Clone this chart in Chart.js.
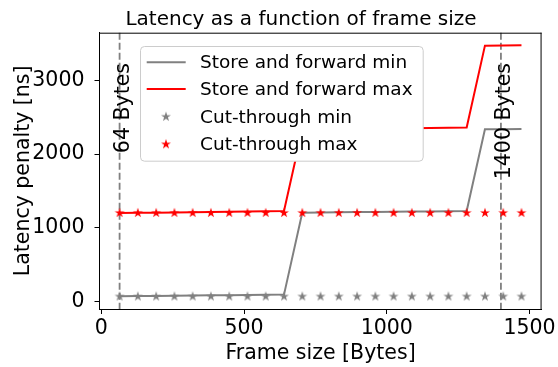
<!DOCTYPE html>
<html>
<head>
<meta charset="utf-8">
<script src="https://cdn.jsdelivr.net/npm/chart.js@4/dist/chart.umd.min.js"></script>
<style>
  html, body { margin: 0; padding: 0; background: #ffffff; }
  #wrap { width: 558px; height: 367px; }
</style>
</head>
<body>
<div id="wrap"><canvas id="c" width="558" height="367"></canvas></div>
<script>
// Frame sizes in bytes (x values)
const frameSizes = [64, 128, 192, 256, 320, 384, 448, 512, 576, 640, 704, 768,
                    832, 896, 960, 1024, 1088, 1152, 1216, 1280, 1344, 1408, 1472];

// Latency penalty in ns
const storeForwardMin = [72, 75, 77, 80, 82, 85, 87, 90, 92, 95,
                         1205, 1208, 1210, 1213, 1215, 1218, 1220, 1223, 1225, 1228,
                         2335, 2338, 2340];
const storeForwardMax = [1200, 1203, 1206, 1209, 1212, 1215, 1218, 1221, 1224, 1228,
                         2333, 2336, 2339, 2342, 2345, 2348, 2351, 2354, 2357, 2360,
                         3470, 3473, 3476];
const cutThroughMin = [70, 70, 70, 70, 70, 70, 70, 70, 70, 70, 70, 70,
                       70, 70, 70, 70, 70, 70, 70, 70, 70, 70, 70];
const cutThroughMax = [1202, 1202, 1202, 1202, 1202, 1202, 1202, 1202, 1202, 1202, 1202, 1202,
                       1202, 1202, 1202, 1202, 1202, 1202, 1202, 1202, 1202, 1202, 1202];

// Reference frame sizes marked with dashed lines
const markerSizes = [64, 1400];
const markerLabels = ['64 Bytes', '1400 Bytes'];

const xTickValues = [0, 500, 1000, 1500];
const yTickValues = [0, 1000, 2000, 3000];

const seriesNames = ['Store and forward min', 'Store and forward max', 'Cut-through min', 'Cut-through max'];

const GREY = '#808080';
const RED = '#ff0000';
const FONT = 'DejaVu Sans';

// Filled five-pointed star used as the point marker
function makeStar(color, R) {
  const size = Math.ceil(R * 2 + 3);
  const cv = document.createElement('canvas');
  cv.width = size; cv.height = size;
  const g = cv.getContext('2d');
  const cx = size / 2, cy = size / 2, r = R * 0.381966;
  g.beginPath();
  for (let i = 0; i < 10; i++) {
    const rad = i % 2 === 0 ? R : r;
    const a = -Math.PI / 2 + i * Math.PI / 5;
    const px = cx + rad * Math.cos(a), py = cy + rad * Math.sin(a);
    if (i === 0) g.moveTo(px, py); else g.lineTo(px, py);
  }
  g.closePath();
  g.fillStyle = color;
  g.fill();
  return cv;
}
const greyStar = makeStar(GREY, 5.2);
const redStar = makeStar(RED, 5.2);

const toPoints = ys => frameSizes.map((x, i) => ({ x: x, y: ys[i] }));

const decor = {
  id: 'decor',
  beforeDatasetsDraw(chart) {
    const { ctx, chartArea: a, scales: { x } } = chart;
    ctx.save();
    ctx.strokeStyle = GREY;
    ctx.lineWidth = 1.8;
    ctx.setLineDash([7, 3]);
    markerSizes.forEach(v => {
      const px = x.getPixelForValue(v);
      ctx.beginPath();
      ctx.moveTo(px, a.top);
      ctx.lineTo(px, a.bottom);
      ctx.stroke();
    });
    ctx.restore();
  },
  afterDraw(chart) {
    const { ctx, chartArea: a, scales: { x } } = chart;
    ctx.save();
    // top and right spines
    ctx.strokeStyle = '#000';
    ctx.lineWidth = 1;
    ctx.beginPath();
    ctx.moveTo(a.left, a.top + 0.5);
    ctx.lineTo(a.right, a.top + 0.5);
    ctx.moveTo(a.right - 0.5, a.top);
    ctx.lineTo(a.right - 0.5, a.bottom);
    ctx.stroke();

    // rotated labels next to the reference lines
    ctx.fillStyle = '#000';
    ctx.font = '20.5px "' + FONT + '"';
    ctx.textBaseline = 'middle';
    ctx.textAlign = 'right';
    markerSizes.forEach((v, i) => {
      const px = x.getPixelForValue(v);
      ctx.save();
      ctx.translate(px + 4, 63);
      ctx.rotate(-Math.PI / 2);
      ctx.fillText(markerLabels[i], 0, 0);
      ctx.restore();
    });

    // title
    ctx.font = '20px "' + FONT + '"';
    ctx.textAlign = 'center';
    ctx.textBaseline = 'alphabetic';
    ctx.fillText('Latency as a function of frame size', 301, 24.6);

    // axis titles
    ctx.font = '20.5px "' + FONT + '"';
    ctx.fillText('Frame size [Bytes]', (a.left + a.right) / 2, 359);
    ctx.save();
    ctx.translate(29, (a.top + a.bottom) / 2);
    ctx.rotate(-Math.PI / 2);
    ctx.fillText('Latency penalty [ns]', 0, 0);
    ctx.restore();

    // legend
    const bx = 140, by = 46, bw = 282.7, bh = 114.7, br = 4;
    ctx.beginPath();
    ctx.roundRect(bx + 0.5, by + 0.5, bw, bh, br);
    ctx.fillStyle = '#ffffff';
    ctx.fill();
    ctx.strokeStyle = '#cccccc';
    ctx.lineWidth = 1;
    ctx.stroke();

    const rows = [62.3, 89, 116.7, 144.3];
    chart.data.datasets.forEach((ds, i) => {
      const ry = rows[i];
      if (ds.showLine) {
        ctx.strokeStyle = ds.borderColor;
        ctx.lineWidth = ds.borderWidth;
        ctx.beginPath();
        ctx.moveTo(146.7, ry);
        ctx.lineTo(185.7, ry);
        ctx.stroke();
      } else {
        const img = ds.pointStyle;
        ctx.drawImage(img, 166 - img.width / 2, ry - img.height / 2);
      }
      ctx.fillStyle = '#000';
      ctx.font = '18.5px "' + FONT + '"';
      ctx.textAlign = 'left';
      ctx.textBaseline = 'middle';
      ctx.fillText(ds.label, 200, ry + 1);
    });
    ctx.restore();
  }
};

const plainTick = v => String(v);

new Chart(document.getElementById('c'), {
  type: 'scatter',
  data: {
    datasets: [
      { label: seriesNames[0], data: toPoints(storeForwardMin), showLine: true,
        borderColor: GREY, backgroundColor: GREY, borderWidth: 2, pointRadius: 0, order: 4 },
      { label: seriesNames[1], data: toPoints(storeForwardMax), showLine: true,
        borderColor: RED, backgroundColor: RED, borderWidth: 2, pointRadius: 0, order: 3 },
      { label: seriesNames[2], data: toPoints(cutThroughMin), showLine: false,
        pointStyle: greyStar, pointRadius: 5, order: 2 },
      { label: seriesNames[3], data: toPoints(cutThroughMax), showLine: false,
        pointStyle: redStar, pointRadius: 5, order: 1 }
    ]
  },
  options: {
    responsive: false,
    animation: false,
    devicePixelRatio: 1,
    layout: { padding: { top: 32.7, right: 16.3, bottom: 0, left: 0 } },
    plugins: { legend: { display: false }, title: { display: false }, tooltip: { enabled: false } },
    scales: {
      x: {
        type: 'linear',
        min: -6.4, max: 1542.4,
        afterBuildTicks: s => { s.ticks = xTickValues.map(v => ({ value: v })); },
        afterFit: s => { s.height = 58; },
        ticks: { font: { family: FONT, size: 20.5 }, color: '#000', padding: 2, maxRotation: 0,
                 callback: plainTick },
        grid: { display: true, drawOnChartArea: false, drawTicks: true, tickLength: 5, color: '#000' },
        border: { display: true, color: '#000', width: 1 }
      },
      y: {
        type: 'linear',
        min: -100.25, max: 3645.25,
        afterBuildTicks: s => { s.ticks = yTickValues.map(v => ({ value: v })); },
        afterFit: s => { s.width = 99.5; },
        ticks: { font: { family: FONT, size: 20.5 }, color: '#000', padding: 10,
                 callback: plainTick },
        grid: { display: true, drawOnChartArea: false, drawTicks: true, tickLength: 5, color: '#000' },
        border: { display: true, color: '#000', width: 1 }
      }
    }
  },
  plugins: [decor]
});
</script>
</body>
</html>
